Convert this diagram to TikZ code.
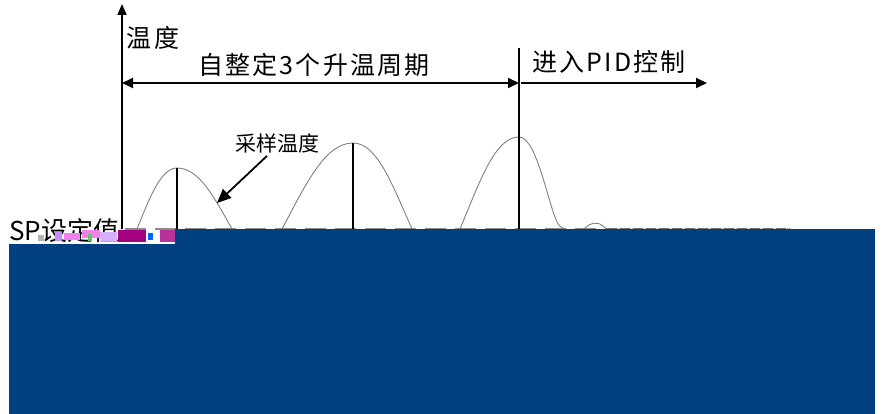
\documentclass[tikz,border=0pt]{standalone}
\usepackage{fontspec}
\usepackage{xcolor}
\usepackage{tikz}
\usetikzlibrary{arrows.meta}
\newfontfamily\cjk{Noto Sans CJK SC}
\newfontfamily\cjkwide[LetterSpace=9]{Noto Sans CJK SC}
\definecolor{panelblue}{RGB}{0,64,129}
\definecolor{glitchmag}{RGB}{165,0,125}
\definecolor{glitchpink}{RGB}{240,130,240}
\definecolor{glitchviolet}{RGB}{200,140,255}
\tikzset{
  txt/.style={font=\cjkwide\fontsize{25}{30}\selectfont, inner sep=0pt},
  smalltxt/.style={font=\cjk\fontsize{21}{25}\selectfont, inner sep=0pt},
  thick line/.style={line width=1.8pt},
  tip/.style={-{Triangle[length=11pt,width=10pt]}},
  curve/.style={black!50, line width=0.9pt},
  setline/.style={black!45, line width=1.5pt, dash pattern=on 21pt off 9pt}
}
\begin{document}
\begin{tikzpicture}[x=1pt,y=-1pt]
\useasboundingbox (0,0) rectangle (890,414);
\coordinate (o) at (122,229);
\coordinate (ytop) at (122,4);
\coordinate (cut) at (519,229);
\coordinate (ctop) at (519,48);
\coordinate (aL) at (122,83);
\coordinate (aM) at (519,83);
\coordinate (aR) at (707,83);
\coordinate (p1) at (177,168);
\coordinate (p2) at (353,143);
\coordinate (p3) at (519,137);
\coordinate (send) at (790,229);
\coordinate (hit) at (217,203);
\draw[setline] (125,229)--(607,229);
\draw[black!60, line width=1.5pt, dash pattern=on 10pt off 3pt] (607,229)--(send);
\draw[curve] (137,229) .. controls (150,197) and (161,168) .. (p1) .. controls (199,168) and (214,197) .. (232,229);
\draw[curve] (282,229) .. controls (306,184) and (325,143) .. (p2) .. controls (377,143) and (392,184) .. (412,229);
\draw[curve] (460,229) .. controls (480,181) and (495,137) .. (p3) .. controls (537,137) and (548,205) .. (558,224) .. controls (563,231) and (575,232) .. (585,228) .. controls (590,223) and (597,221) .. (603,226) .. controls (606,229) .. (612,229) -- (send);
\draw[thick line] (p1)--(p1 |- o);
\draw[thick line] (p2)--(p2 |- o);
\draw[thick line] (ctop)--(cut);
\draw[thick line, -{Triangle[length=11pt,width=9pt]}] (o)--(ytop);
\draw[thick line, {Triangle[length=11pt,width=10pt]}-{Triangle[length=11pt,width=10pt]}] (aL)--(aM);
\draw[thick line, tip] ([xshift=2pt]aM)--(aR);
\node[txt] (temp) at (153,38) {温度};
\node[txt] (tune) at (314,65) {自整定3个升温周期};
\node[txt] (pid) at (609,62) {进入PID控制};
\node[smalltxt] (samp) at (277,143) {采样温度};
\draw[thick line, -{Triangle[length=14pt,width=12pt]}] ([xshift=-10pt,yshift=-3pt]samp.south) -- (hit);
\node[txt, font=\cjk\fontsize{26}{30}\selectfont, anchor=west] (sp) at (9,231) {SP设定值};
\fill[panelblue] (9,244) rectangle (875,414);
\fill[panelblue] (175,229) rectangle (875,244);
\fill[glitchmag] (118,230) rectangle (146,242);
\fill[glitchmag!80] (160,230) rectangle (175,242);
\fill[blue!60!cyan] (148,233) rectangle (153,240);
\fill[black!30] (38,235) rectangle (44,241);
\fill[glitchviolet] (55,232) rectangle (62,241);
\fill[glitchpink] (64,233) rectangle (80,240);
\fill[glitchpink] (82,230) rectangle (100,238);
\fill[green!60!black!60] (88,234) rectangle (92,241);
\fill[glitchviolet!70] (100,232) rectangle (117,241);
\end{tikzpicture}
\end{document}
